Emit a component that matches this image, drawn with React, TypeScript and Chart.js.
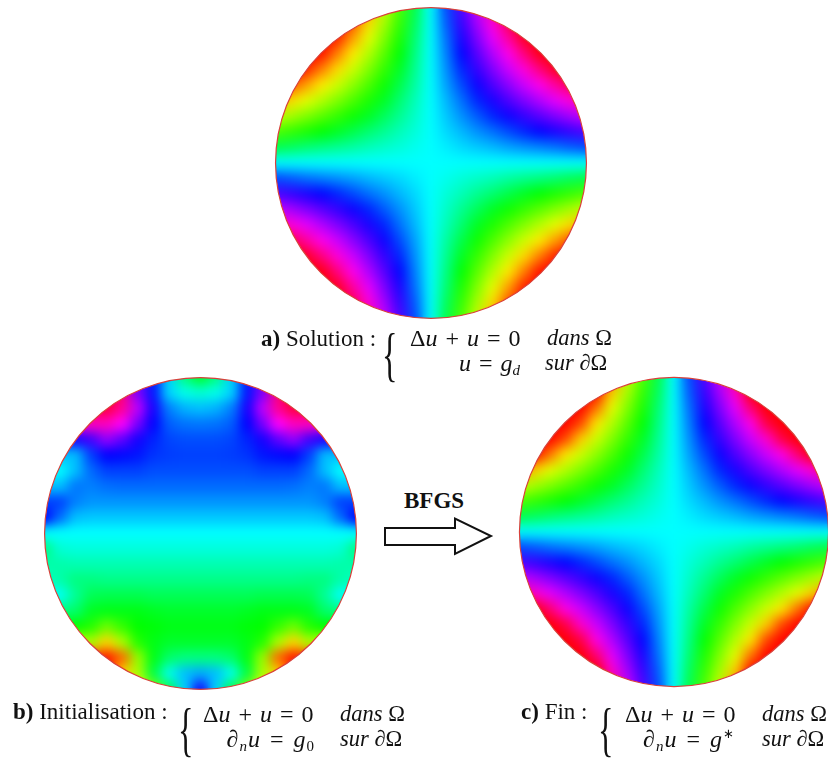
import React, { useEffect, useRef } from "react";
import { Chart, registerables } from "chart.js";

Chart.register(...registerables);

// Sample positions across each disc, normalised to its radius.
const GRID_X = [-1, -0.9, -0.8, -0.7, -0.6, -0.5, -0.4, -0.3, -0.2, -0.1, 0, 0.1, 0.2, 0.3, 0.4, 0.5, 0.6, 0.7, 0.8, 0.9, 1];
const GRID_Y = [1, 0.9, 0.8, 0.7, 0.6, 0.5, 0.4, 0.3, 0.2, 0.1, 0, -0.1, -0.2, -0.3, -0.4, -0.5, -0.6, -0.7, -0.8, -0.9, -1];

// Field values, as colour-wheel position 0..360, top row first.
const SOLUTION_ROWS = [
  [0,0,0,0,0,0,38,72,102,137,180,223,258,288,322,360,360,360,360,360,360],
  [0,0,0,0,0,19,52,81,108,141,180,219,252,279,308,341,360,360,360,360,360],
  [0,0,0,0,8,38,66,90,114,146,180,214,246,270,294,322,352,360,360,360,360],
  [0,0,0,4,30,56,78,99,120,150,180,210,240,261,282,304,330,356,360,360,360],
  [0,0,8,30,52,72,90,108,128,154,180,206,232,252,270,288,308,330,352,360,360],
  [0,19,38,56,72,87,102,117,137,158,180,202,223,243,258,273,288,304,322,341,360],
  [38,52,66,78,90,102,114,128,146,163,180,197,214,232,246,258,270,282,294,308,322],
  [72,81,90,99,108,117,128,141,154,167,180,193,206,219,232,243,252,261,270,279,288],
  [102,108,114,120,128,137,146,154,163,171,180,189,197,206,214,223,232,240,246,252,258],
  [137,141,146,150,154,158,163,167,171,176,180,184,189,193,197,202,206,210,214,219,223],
  [180,180,180,180,180,180,180,180,180,180,180,180,180,180,180,180,180,180,180,180,180],
  [223,219,214,210,206,202,197,193,189,184,180,176,171,167,163,158,154,150,146,141,137],
  [258,252,246,240,232,223,214,206,197,189,180,171,163,154,146,137,128,120,114,108,102],
  [288,279,270,261,252,243,232,219,206,193,180,167,154,141,128,117,108,99,90,81,72],
  [322,308,294,282,270,258,246,232,214,197,180,163,146,128,114,102,90,78,66,52,38],
  [360,341,322,304,288,273,258,243,223,202,180,158,137,117,102,87,72,56,38,19,0],
  [360,360,352,330,308,288,270,252,232,206,180,154,128,108,90,72,52,30,8,0,0],
  [360,360,360,356,330,304,282,261,240,210,180,150,120,99,78,56,30,4,0,0,0],
  [360,360,360,360,352,322,294,270,246,214,180,146,114,90,66,38,8,0,0,0,0],
  [360,360,360,360,360,341,308,279,252,219,180,141,108,81,52,19,0,0,0,0,0],
  [360,360,360,360,360,360,322,288,258,223,180,137,102,72,38,0,0,0,0,0,0],
];

const INITIAL_ROWS = [
  [360,360,360,360,360,330,270,235,190,150,130,150,190,235,270,330,360,360,360,360,360],
  [360,360,360,360,360,330,270,235,190,175,170,175,190,235,270,330,360,360,360,360,360],
  [345,345,345,345,345,325,285,245,210,198,195,198,210,245,285,325,345,345,345,345,345],
  [305,305,305,315,315,300,268,240,218,213,212,213,218,240,268,300,315,315,305,305,305],
  [245,245,245,255,275,262,245,232,224,222,222,222,224,232,245,262,275,255,245,245,245],
  [195,195,195,225,240,238,235,228,226,225,225,225,226,228,235,238,240,225,195,195,195],
  [180,180,195,215,225,225,225,222,222,222,222,222,222,222,225,225,225,215,195,180,180],
  [195,195,212,210,214,215,215,215,215,215,215,215,215,215,215,215,214,210,212,195,195],
  [225,225,210,205,205,205,205,205,205,205,205,205,205,205,205,205,205,205,210,225,225],
  [240,215,195,193,193,193,193,193,193,193,193,193,193,193,193,193,193,193,195,215,240],
  [180,180,180,180,180,180,180,180,180,180,180,180,180,180,180,180,180,180,180,180,180],
  [150,170,172,172,172,172,172,172,172,172,172,172,172,172,172,172,172,172,172,170,150],
  [160,160,162,162,162,162,162,162,162,162,162,162,162,162,162,162,162,162,162,160,160],
  [165,160,150,150,152,152,152,152,152,152,152,152,152,152,152,152,152,150,150,160,165],
  [178,178,155,140,138,138,138,140,140,140,140,140,140,140,138,138,138,140,155,178,178],
  [150,150,145,128,125,125,125,128,130,130,130,130,130,128,125,125,125,128,145,150,150],
  [120,120,120,112,95,108,120,122,125,125,125,125,125,122,120,108,95,112,120,120,120],
  [75,75,75,80,50,80,112,125,130,130,130,130,130,125,112,80,50,80,75,75,75],
  [20,20,20,15,5,25,85,125,145,150,150,150,145,125,85,25,5,15,20,20,20],
  [10,10,10,10,5,50,80,135,175,195,200,195,175,135,80,50,5,10,10,10,10],
  [10,10,10,10,10,10,60,90,140,190,245,190,140,90,60,10,10,10,10,10,10],
];

const FINAL_ROWS = [
  [0,0,0,0,0,0,27,72,102,137,180,223,258,288,333,360,360,360,360,360,360],
  [0,0,0,0,0,0,49,81,108,141,180,219,252,279,311,360,360,360,360,360,360],
  [0,0,0,0,0,27,66,90,114,146,180,214,246,270,294,333,360,360,360,360,360],
  [0,0,0,0,16,55,78,99,120,150,180,210,240,261,282,305,344,360,360,360,360],
  [0,0,0,16,49,72,90,108,128,154,180,206,232,252,270,288,311,344,360,360,360],
  [0,0,27,55,72,87,102,117,137,158,180,202,223,243,258,273,288,305,333,360,360],
  [27,49,66,78,90,102,114,128,146,163,180,197,214,232,246,258,270,282,294,311,333],
  [72,81,90,99,108,117,128,141,154,167,180,193,206,219,232,243,252,261,270,279,288],
  [102,108,114,120,128,137,146,154,163,171,180,189,197,206,214,223,232,240,246,252,258],
  [137,141,146,150,154,158,163,167,171,176,180,184,189,193,197,202,206,210,214,219,223],
  [180,180,180,180,180,180,180,180,180,180,180,180,180,180,180,180,180,180,180,180,180],
  [223,219,214,210,206,202,197,193,189,184,180,176,171,167,163,158,154,150,146,141,137],
  [258,252,246,240,232,223,214,206,197,189,180,171,163,154,146,137,128,120,114,108,102],
  [288,279,270,261,252,243,232,219,206,193,180,167,154,141,128,117,108,99,90,81,72],
  [333,311,294,282,270,258,246,232,214,197,180,163,146,128,114,102,90,78,66,49,27],
  [360,360,333,305,288,273,258,243,223,202,180,158,137,117,102,87,72,55,27,0,0],
  [360,360,360,344,311,288,270,252,232,206,180,154,128,108,90,72,49,16,0,0,0],
  [360,360,360,360,344,305,282,261,240,210,180,150,120,99,78,55,16,0,0,0,0],
  [360,360,360,360,360,333,294,270,246,214,180,146,114,90,66,27,0,0,0,0,0],
  [360,360,360,360,360,360,311,279,252,219,180,141,108,81,49,0,0,0,0,0,0],
  [360,360,360,360,360,360,333,288,258,223,180,137,102,72,27,0,0,0,0,0,0],
];

const SERIF = '"Liberation Serif", "Times New Roman", serif';
const SCALE_LIMIT = 1.1;

function Disc({ rows, left, top, size, blur }: { rows: number[][]; left: number; top: number; size: number; blur: number }) {
  const ref = useRef<HTMLCanvasElement>(null);
  useEffect(() => {
    const canvas = ref.current!;
    const points: { x: number; y: number }[] = [];
    const colours: string[] = [];
    rows.forEach((row, j) =>
      row.forEach((v, i) => {
        points.push({ x: GRID_X[i], y: GRID_Y[j] });
        colours.push(`hsl(${v}, 100%, 50%)`);
      })
    );
    const smoothAndClip = {
      id: "smoothAndClip",
      afterDatasetsDraw(chart: any) {
        const { ctx, scales } = chart;
        const cx = scales.x.getPixelForValue(0);
        const cy = scales.y.getPixelForValue(0);
        const r = Math.abs(scales.x.getPixelForValue(1) - cx);
        ctx.save();
        ctx.beginPath();
        ctx.arc(cx, cy, r, 0, Math.PI * 2);
        ctx.clip();
        ctx.filter = `blur(${blur}px)`;
        ctx.drawImage(chart.canvas, 0, 0);
        ctx.restore();
        ctx.save();
        ctx.globalCompositeOperation = "destination-out";
        ctx.beginPath();
        ctx.rect(0, 0, chart.width, chart.height);
        ctx.arc(cx, cy, r, 0, Math.PI * 2);
        ctx.fill("evenodd");
        ctx.restore();
        ctx.save();
        ctx.beginPath();
        ctx.arc(cx, cy, r, 0, Math.PI * 2);
        ctx.strokeStyle = "#d9403a";
        ctx.lineWidth = 1.2;
        ctx.stroke();
        ctx.restore();
      },
    };
    const chart = new Chart(canvas, {
      type: "scatter",
      data: {
        datasets: [
          {
            data: points,
            pointStyle: "rect",
            pointRadius: (size / (2 * SCALE_LIMIT)) * 0.1 * 0.75,
            pointBorderWidth: 0,
            pointBackgroundColor: colours,
            clip: false,
          },
        ],
      },
      options: {
        animation: false,
        responsive: false,
        events: [],
        layout: { padding: 0, autoPadding: false },
        plugins: { legend: { display: false }, tooltip: { enabled: false } },
        scales: {
          x: { type: "linear", display: false, min: -SCALE_LIMIT, max: SCALE_LIMIT },
          y: { type: "linear", display: false, min: -SCALE_LIMIT, max: SCALE_LIMIT },
        },
      },
      plugins: [smoothAndClip],
    } as any);
    return () => chart.destroy();
  }, [rows, size, blur]);
  return <canvas ref={ref} width={size} height={size} style={{ position: "absolute", left, top }} />;
}

const FS = 23;
const EQ = 24;
const WORD = 22.5;
function Txt({ x, right, base, size = FS, children, style }: any) {
  const pos: any = { position: "absolute", top: base - 0.8375 * size, fontSize: size, lineHeight: "1", whiteSpace: "nowrap", fontFamily: SERIF, color: "#111", ...style };
  if (right !== undefined) pos.right = 828 - right;
  else pos.left = x;
  return <span style={pos}>{children}</span>;
}
const I = ({ children }: any) => <i>{children}</i>;
const Sub = ({ children }: any) => <sub style={{ fontSize: 15, lineHeight: 0, verticalAlign: -4 }}>{children}</sub>;
const Brace = ({ x, base }: { x: number; base: number }) => (
  <span style={{ position: "absolute", left: x, top: base, fontFamily: SERIF, fontSize: 52, lineHeight: "52px", color: "#111", transform: "scale(0.62, 1.14)", transformOrigin: "0 0" }}>{"{"}</span>
);
const MATH = { wordSpacing: 2 };
const EQ1 = () => (
  <>
    Δ<I>u</I> + <I>u</I> = 0
  </>
);

export default function App() {
  return (
    <div style={{ position: "fixed", left: 0, top: 0, width: 828, height: 758, overflow: "hidden", background: "#fff" }}>
      <Disc rows={SOLUTION_ROWS} left={260} top={-8} size={342} blur={6.5} />
      <Disc rows={INITIAL_ROWS} left={29} top={362} size={343} blur={6} />
      <Disc rows={FINAL_ROWS} left={504} top={362} size={340} blur={6.5} />

      <Txt x={261} base={346}><b>a)</b> Solution :</Txt>
      <Brace x={382} base={325} />
      <Txt x={410} base={346} size={EQ} style={MATH}><EQ1 /></Txt>
      <Txt x={547} base={346} size={WORD}><I>dans</I> Ω</Txt>
      <Txt right={520} base={371} size={EQ} style={MATH}><I>u</I> = <I>g</I><Sub><I>d</I></Sub></Txt>
      <Txt x={545} base={371} size={WORD}><I>sur</I> ∂Ω</Txt>

      <Txt x={13} base={719}><b>b)</b> Initialisation :</Txt>
      <Brace x={178} base={700} />
      <Txt x={203} base={722} size={EQ} style={MATH}><EQ1 /></Txt>
      <Txt x={340} base={722} size={WORD}><I>dans</I> Ω</Txt>
      <Txt right={315} base={747} size={EQ} style={{ ...MATH, letterSpacing: 1 }}>∂<Sub><I>n</I></Sub><I>u</I> = <I>g</I><Sub>0</Sub></Txt>
      <Txt x={340} base={747} size={WORD}><I>sur</I> ∂Ω</Txt>

      <Txt x={521} base={719}><b>c)</b> Fin :</Txt>
      <Brace x={598} base={700} />
      <Txt x={625} base={722} size={EQ} style={MATH}><EQ1 /></Txt>
      <Txt x={762} base={722} size={WORD}><I>dans</I> Ω</Txt>
      <Txt right={735} base={747} size={EQ} style={{ ...MATH, letterSpacing: 1 }}>∂<Sub><I>n</I></Sub><I>u</I> = <I>g</I><sup style={{ fontSize: 13, lineHeight: 0 }}>∗</sup></Txt>
      <Txt x={762} base={747} size={WORD}><I>sur</I> ∂Ω</Txt>

      <Txt x={404} base={508}><b>BFGS</b></Txt>
      <svg width={828} height={758} style={{ position: "absolute", left: 0, top: 0, pointerEvents: "none" }}>
        <polygon points="385,528 455,528 455,518.5 491,536 455,554 455,545 385,545" fill="#fff" stroke="#111" strokeWidth={2} />
      </svg>
    </div>
  );
}
